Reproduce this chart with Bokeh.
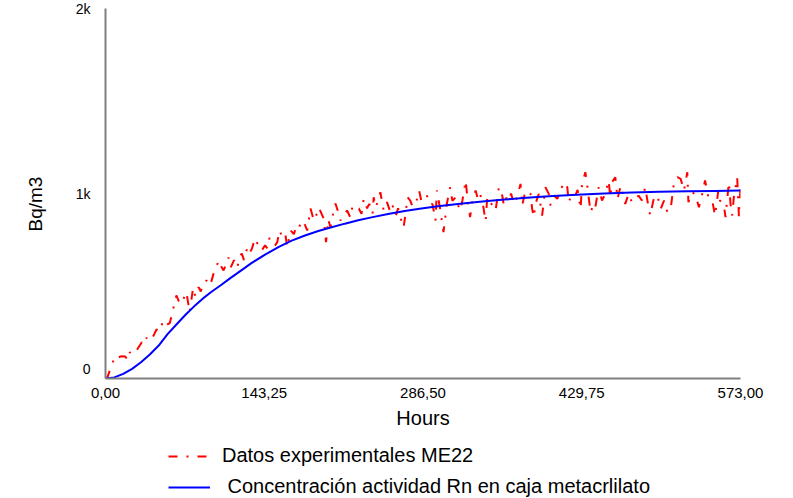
from bokeh.plotting import figure
from bokeh.layouts import column
from bokeh.models import Range1d, FixedTicker, Legend, LegendItem
from bokeh.embed import file_html
from bokeh.resources import INLINE

# Measured radon activity (hours, Bq/m3)
red_hours = [0, 2, 4.8, 8, 10, 12, 14, 17.8, 20, 22, 25, 28, 30, 32.8, 35, 37, 39, 41.5, 44, 46,
             49, 52, 55, 58, 61, 64, 66, 69, 71, 73, 76, 79, 81, 84, 86, 88, 91, 94.5, 97.5, 100,
             102, 104, 106.5, 109, 111, 113, 116, 119, 121, 123, 125, 128, 130, 132, 135, 137, 139, 141, 144, 146,
             148, 150, 153, 155, 157, 159, 162, 164, 167, 170, 172, 174, 177.5, 180, 182, 185, 188, 190, 192.5, 195,
             197, 199, 201, 203, 205, 207.5, 210, 212, 215, 218, 221, 223, 225.6, 228.6, 231, 233, 236, 238, 241, 242,
             243.7, 246, 248, 251, 254, 257, 259, 262, 264, 266, 269, 271, 272.5, 275, 277, 280, 283, 285, 287, 290,
             293, 295, 297.8, 299, 302, 305, 308, 311, 313, 316, 318, 320, 322, 325, 327, 329, 331, 334, 336, 338,
             341, 343, 344.5, 347, 349, 352, 355, 358, 359.5, 362, 364, 366, 368.5, 371.5, 374.5, 376, 378, 380.5, 383.5, 385,
             386.5, 388, 391, 394, 397, 400, 401.6, 404.6, 407.7, 410.6, 413.6, 416.7, 418, 421, 424, 426, 428.7, 430, 433, 434.7,
             437.7, 440.7, 442, 445, 448, 451, 454, 455.5, 457, 460, 462, 465, 468, 469, 472, 475, 478, 481, 484, 487,
             490, 491.5, 495, 498, 501, 504, 507, 510, 513, 516, 519, 522, 525, 526, 529, 532, 535.5, 538.5, 541, 544,
             547.5, 550, 553, 554.5, 558, 559.5, 562.5, 564, 565.5, 567, 570, 571.6, 573]
red_values = [0, 10, 61, 110, 125, 115, 120, 119, 100, 142, 130, 151, 170, 196, 185, 220, 205, 210, 240, 265,
              255, 313, 290, 299, 373, 449, 420, 404, 440, 466, 358, 490, 445, 494, 470, 512, 530, 503, 567, 600,
              638, 610, 584, 620, 654, 600, 640, 600, 660, 675, 640, 708, 680, 700, 757, 730, 700, 692, 720, 703,
              760, 746, 720, 737, 800, 773, 790, 710, 800, 780, 820, 809, 854, 830, 800, 919, 854, 880, 924, 890,
              863, 737, 860, 818, 880, 946, 900, 854, 880, 908, 870, 935, 926, 919, 890, 971, 920, 944, 890, 980,
              926, 960, 1007, 908, 953, 900, 935, 881, 920, 872, 816, 900, 980, 962, 930, 944, 1016, 960, 962, 989,
              940, 944, 854, 1016, 917, 791, 944, 1034, 960, 980, 940, 908, 960, 1070, 950, 872, 960, 1016, 970, 998,
              926, 850, 980, 960, 935, 908, 1034, 989, 935, 980, 962, 1000, 944, 980, 1052, 935, 990, 1016, 998, 917,
              872, 944, 998, 881, 1034, 998, 935, 989, 971, 1016, 1061, 1034, 953, 998, 989, 1020, 917, 1052, 1115, 1043,
              899, 944, 926, 1034, 962, 998, 1070, 980, 1061, 1088, 971, 1043, 962, 944, 998, 953, 962, 989, 962, 1034,
              926, 881, 980, 989, 917, 962, 899, 917, 1061, 1088, 1079, 1016, 1115, 953, 1007, 998, 926, 998, 1070, 980,
              962, 881, 1016, 962, 935, 872, 1061, 944, 881, 980, 1088, 872, 1040]

# Modelled concentration in the methacrylate box (hours, Bq/m3)
model_hours = [0, 8, 16, 24, 32, 40, 48, 56, 64, 72, 80, 88, 96, 104, 112, 120, 132, 144, 156, 168,
               180, 192, 204, 216, 228, 240, 255, 270, 285, 300, 320, 340, 360, 380, 400, 425, 450, 475, 500, 525,
               550, 573]
model_values = [0, 6, 25, 52, 88, 130, 178, 240, 292, 343, 390, 433, 470, 504, 540, 574, 625, 670, 710, 745,
                773, 797, 818, 837, 855, 871, 889, 905, 919, 931, 945, 957, 967, 977, 985, 993, 1000, 1005, 1009, 1012,
                1014, 1016]

x_ticks = [0, 143.25, 286.5, 429.75, 573]
x_tick_labels = ["0,00", "143,25", "286,50", "429,75", "573,00"]
y_ticks = [0, 1000, 2000]
# the bottom label is lifted off the axis with a blank line
y_tick_labels = ["0\n", "1k", "2k"]

series_labels = ["Datos experimentales ME22", "\u00a0Concentración actividad Rn en caja metacrlilato"]

FONT = "Liberation Sans"
AXIS_GREY = "#7f7f7f"
RED_STYLE = dict(line_color="red", line_width=2, line_dash="9 9 2 9")
BLUE_STYLE = dict(line_color="blue", line_width=2)

p = figure(width=793, height=432, output_backend="svg", toolbar_location=None,
           x_range=Range1d(0, 573), y_range=Range1d(0, 2000),
           min_border_left=105, min_border_right=53, min_border_top=8, min_border_bottom=54)
p.outline_line_color = None
p.xgrid.visible = False
p.ygrid.visible = False
p.background_fill_color = "white"
p.border_fill_color = "white"

p.line(red_hours, red_values, **RED_STYLE)
p.line(model_hours, model_values, **BLUE_STYLE)

for ax in (p.xaxis[0], p.yaxis[0]):
    ax.axis_line_color = AXIS_GREY
    ax.axis_line_width = 2
    ax.major_tick_line_color = None
    ax.minor_tick_line_color = None
    ax.major_label_text_font = FONT
    ax.major_label_text_color = "black"
    ax.axis_label_text_font = FONT
    ax.axis_label_text_font_style = "normal"
    ax.axis_label_text_color = "black"

p.xaxis.ticker = FixedTicker(ticks=x_ticks)
p.xaxis.major_label_overrides = dict(zip(x_ticks, x_tick_labels))
p.xaxis.major_label_text_font_size = "15px"
p.xaxis.major_label_standoff = 3
p.xaxis.axis_label = "Hours"
p.xaxis.axis_label_text_font_size = "20px"
p.xaxis.axis_label_standoff = 6

p.yaxis.ticker = FixedTicker(ticks=y_ticks)
p.yaxis.major_label_overrides = dict(zip(y_ticks, y_tick_labels))
p.yaxis.major_label_text_font_size = "14px"
p.yaxis.major_label_standoff = 9
p.yaxis.axis_label = "Bq/m3" + "\u00a0" * 4
p.yaxis.axis_label_text_font_size = "19px"
p.yaxis.axis_label_standoff = 27

# legend strip underneath the chart; its key lines hold a single point, so only the legend shows them
lg = figure(width=793, height=66, output_backend="svg", toolbar_location=None,
            x_axis_type=None, y_axis_type=None, x_range=Range1d(0, 1), y_range=Range1d(0, 1),
            min_border=0)
lg.outline_line_color = None
lg.background_fill_color = "white"
lg.border_fill_color = "white"
red_key = lg.line(red_hours[:1], red_values[:1], **RED_STYLE)
blue_key = lg.line(model_hours[:1], model_values[:1], **BLUE_STYLE)

legend = Legend(items=[LegendItem(label=series_labels[0], renderers=[red_key]),
                       LegendItem(label=series_labels[1], renderers=[blue_key])],
                location=(63, 0), orientation="vertical",
                label_text_font=FONT, label_text_font_size="20px", label_text_color="black",
                glyph_width=42, glyph_height=20, label_height=20, label_standoff=12,
                spacing=8, padding=0, margin=0,
                background_fill_alpha=0, border_line_color=None)
lg.add_layout(legend)

open("out.html", "w").write(file_html(column(p, lg, spacing=0), INLINE))
